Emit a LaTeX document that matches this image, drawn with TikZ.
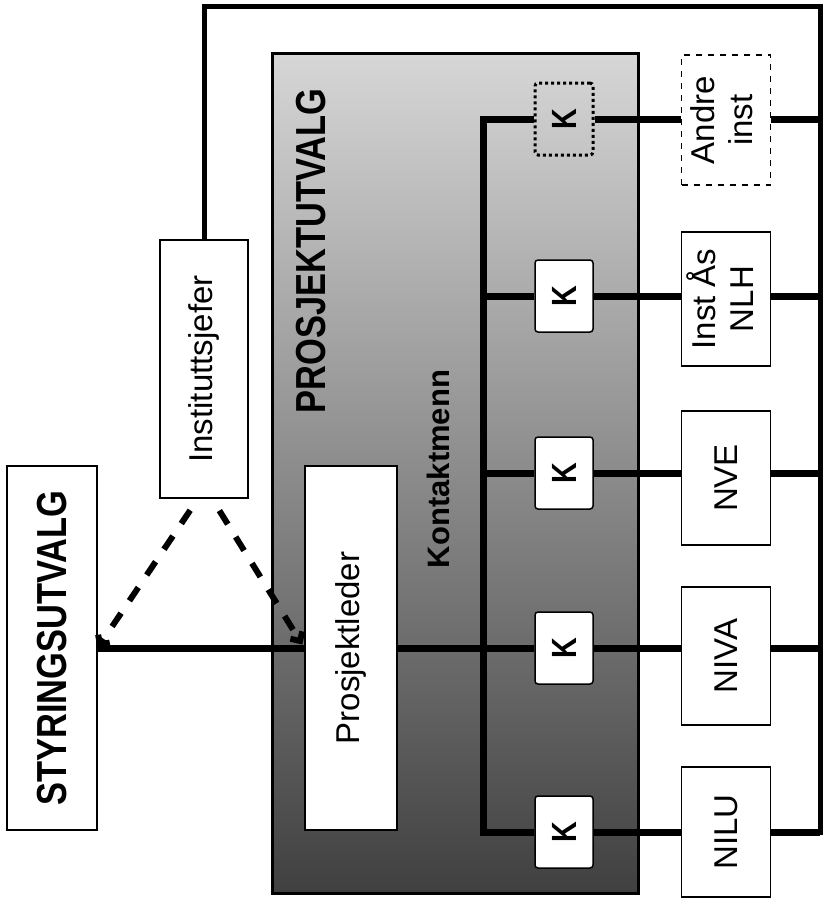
\documentclass[tikz,border=0pt]{standalone}
\usepackage{fontspec}
\setmainfont{Liberation Sans}
\newfontfamily\narrowsans[FakeStretch=0.82]{Liberation Sans}
\usepackage{tikz}
\usetikzlibrary{arrows.meta}
\newcommand{\vtxt}[1]{\rotatebox{90}{#1}}

\begin{document}
\begin{tikzpicture}[x=1pt, y=-1pt,
    box/.style={draw, line width=1.3pt, fill=white, align=center, font=\fontsize{33}{38}\selectfont},
    orgbox/.style={box, minimum width=89pt, minimum height=134pt},
    kbox/.style={draw, line width=1.5pt, fill=white, rounded corners=3pt, minimum width=58pt, minimum height=72pt, font=\narrowsans\bfseries\fontsize{35}{35}\selectfont},
    heading/.style={font=\narrowsans\bfseries\fontsize{42}{42}\selectfont},
    link/.style={line width=7pt},
    frame/.style={line width=5pt}
]
        \useasboundingbox (0,0) rectangle (823,899);

        % Prosjektutvalg (shaded area)
        \draw[line width=3pt, top color=black!16, middle color=black!24, bottom color=black!75] (272,54) rectangle (638,893);
        \node[heading, rotate=90] (putitle) at (311,251) {PROSJEKTUTVALG};
        \node[font=\bfseries\fontsize{31}{31}\selectfont, rotate=90] (kontakt) at (438,469) {Kontaktmenn};

        % Left side
        \node[box, minimum width=90pt, minimum height=364pt] (styr) at (52,648) {\vtxt{\narrowsans\bfseries\fontsize{42}{42}\selectfont STYRINGSUTVALG}};
        \node[box, minimum width=88pt, minimum height=258pt] (chief) at (204,369) {\vtxt{Instituttsjefer}};
        \node[box, minimum width=92pt, minimum height=364pt] (leader) at (351,648) {\vtxt{Prosjektleder}};

        % Kontaktmenn
        \node[kbox, fill=none, line width=3pt, dash pattern=on 3pt off 3pt] (k1) at (564,119) {\vtxt{K}};
        \node[kbox] (k2) at (564,296) {\vtxt{K}};
        \node[kbox] (k3) at (564,473) {\vtxt{K}};
        \node[kbox] (k4) at (564,648) {\vtxt{K}};
        \node[kbox] (k5) at (564,832) {\vtxt{K}};

        % Institutter
        \node[orgbox, minimum height=130pt, dash pattern=on 6pt off 6pt] (andre) at (726,120) {\vtxt{\begin{tabular}{@{}c@{}}Andre\\inst\end{tabular}}};
        \node[orgbox] (instas) at (726,299) {\vtxt{\begin{tabular}{@{}c@{}}Inst Ås\\NLH\end{tabular}}};
        \node[orgbox] (nve) at (726,478) {\vtxt{NVE}};
        \node[orgbox, minimum height=138pt] (niva) at (726,656) {\vtxt{NIVA}};
        \node[orgbox, minimum height=130pt] (nilu) at (726,832) {\vtxt{NILU}};

        % Frame line from Instituttsjefer
        \coordinate (ltop) at (204,7);
        \coordinate (rtop) at (820,7);
        \coordinate (rbot) at (820,835);
        \draw[frame] (chief.north) -- (ltop) -- (rtop) -- (rbot);
        \draw[link] (andre.east |- k1) -- (k1 -| rtop);
        \draw[link] (instas.east |- k2) -- (k2 -| rtop);
        \draw[link] (nve.east |- k3) -- (k3 -| rtop);
        \draw[link] (niva.east |- k4) -- (k4 -| rtop);
        \draw[link] (nilu.east |- k5) -- (k5 -| rtop);

        % Contact line
        \coordinate (bustop) at (483,119);
        \coordinate (busbot) at (483,832);
        \draw[link] (k1.west) -- (bustop) -- (busbot) -- (k5.west);
        \draw[link] (bustop |- k2) -- (k2.west);
        \draw[link] (bustop |- k3) -- (k3.west);
        \draw[link] (styr.east) -- (leader.west);
        \draw[link] (leader.east) -- (k4.west);

        % K to institutt
        \draw[link] (k1.east) -- (k1.east -| andre.west);
        \draw[link] (k2.east) -- (k2.east -| instas.west);
        \draw[link] (k3.east) -- (k3.east -| nve.west);
        \draw[link] (k4.east) -- (k4.east -| niva.west);
        \draw[link] (k5.east) -- (k5.east -| nilu.west);

        % Dashed links
        \draw[link, line width=6pt, dash pattern=on 16pt off 15pt, shorten <=14pt, -{Straight Barb[length=7pt]}] ([xshift=-6pt]chief.south) -- (styr.east);
        \draw[link, line width=6pt, dash pattern=on 16pt off 15pt, shorten <=14pt, shorten >=4pt, -{Straight Barb[length=7pt]}] ([xshift=8pt]chief.south) -- (leader.west);
    \end{tikzpicture}
\end{document}
